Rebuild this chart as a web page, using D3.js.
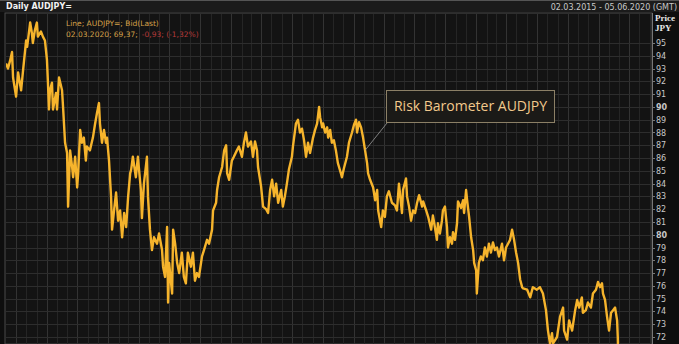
<!DOCTYPE html>
<html>
<head>
<meta charset="utf-8">
<script src="https://cdn.jsdelivr.net/npm/d3@7"></script>
<style>
  html, body { margin: 0; padding: 0; background: #0e0e0e; }
  svg { display: block; }
  .grid line { stroke: #2d2d2d; stroke-width: 1; shape-rendering: crispEdges; }
  .yaxis text { fill: #c8c8c8; font-family: "DejaVu Sans", sans-serif; font-size: 8px; }
  .yaxis line, .yaxis path { stroke: #777; shape-rendering: crispEdges; }
</style>
</head>
<body>
<svg id="chart" width="679" height="344"></svg>
<script>
const width = 679;
const height = 344;

// ---- data (daily AUDJPY, bid/last) ----
const dates = [
  "2015-03-02","2015-03-08","2015-03-14","2015-03-20","2015-03-23","2015-04-01","2015-04-07","2015-04-16","2015-04-22","2015-05-01",
  "2015-05-04","2015-05-13","2015-05-18","2015-05-21","2015-05-27","2015-06-02","2015-06-05","2015-06-14","2015-06-20","2015-06-26",
  "2015-07-02","2015-07-05","2015-07-08","2015-07-11","2015-07-17","2015-07-20","2015-07-29","2015-08-01","2015-08-07","2015-08-16",
  "2015-08-19","2015-08-25","2015-08-31","2015-09-03","2015-09-09","2015-09-15","2015-09-18","2015-09-24","2015-09-30","2015-10-03",
  "2015-10-09","2015-10-14","2015-10-20","2015-10-26","2015-10-29","2015-11-07","2015-11-16","2015-11-22","2015-11-28","2015-12-04",
  "2015-12-07","2015-12-13","2015-12-19","2015-12-25","2015-12-28","2016-01-03","2016-01-09","2016-01-12","2016-01-18","2016-01-24",
  "2016-01-30","2016-02-05","2016-02-11","2016-02-17","2016-02-23","2016-02-29","2016-03-06","2016-03-09","2016-03-14","2016-03-23",
  "2016-03-29","2016-04-07","2016-04-10","2016-04-16","2016-04-25","2016-04-28","2016-05-04","2016-05-10","2016-05-16","2016-05-25",
  "2016-05-31","2016-06-09","2016-06-12","2016-06-18","2016-06-24","2016-06-27","2016-06-30","2016-07-09","2016-07-12","2016-07-18",
  "2016-07-24","2016-07-30","2016-08-07","2016-08-13","2016-08-19","2016-08-25","2016-09-03","2016-09-09","2016-09-15","2016-09-21",
  "2016-09-27","2016-10-06","2016-10-12","2016-10-21","2016-10-27","2016-11-05","2016-11-08","2016-11-17","2016-11-20","2016-11-26",
  "2016-12-05","2016-12-11","2016-12-17","2016-12-20","2016-12-26","2017-01-03","2017-01-09","2017-01-18","2017-01-24","2017-02-02",
  "2017-02-08","2017-02-14","2017-02-20","2017-03-01","2017-03-07","2017-03-13","2017-03-19","2017-03-22","2017-03-31","2017-04-06",
  "2017-04-15","2017-04-21","2017-04-27","2017-05-03","2017-05-09","2017-05-15","2017-05-21","2017-05-30","2017-06-04","2017-06-10",
  "2017-06-16","2017-06-22","2017-07-01","2017-07-04","2017-07-13","2017-07-19","2017-07-25","2017-07-31","2017-08-06","2017-08-12",
  "2017-08-18","2017-08-24","2017-09-02","2017-09-08","2017-09-14","2017-09-20","2017-09-23","2017-09-29","2017-10-02","2017-10-08",
  "2017-10-14","2017-10-17","2017-10-23","2017-10-28","2017-11-03","2017-11-09","2017-11-15","2017-11-24","2017-11-27","2017-12-03",
  "2017-12-12","2017-12-18","2017-12-27","2018-01-02","2018-01-08","2018-01-11","2018-01-17","2018-01-23","2018-01-29","2018-02-04",
  "2018-02-10","2018-02-13","2018-02-19","2018-02-28","2018-03-06","2018-03-12","2018-03-15","2018-03-24","2018-03-29","2018-04-04",
  "2018-04-10","2018-04-16","2018-04-25","2018-05-04","2018-05-10","2018-05-16","2018-05-25","2018-05-28","2018-06-06","2018-06-09",
  "2018-06-15","2018-06-21","2018-06-27","2018-07-03","2018-07-09","2018-07-15","2018-07-24","2018-07-27","2018-08-05","2018-08-11",
  "2018-08-20","2018-08-25","2018-08-31","2018-09-06","2018-09-09","2018-09-15","2018-09-21","2018-09-24","2018-09-30","2018-10-06",
  "2018-10-09","2018-10-15","2018-10-21","2018-10-24","2018-10-30","2018-11-05","2018-11-08","2018-11-17","2018-11-23","2018-11-26",
  "2018-12-02","2018-12-05","2018-12-11","2018-12-17","2018-12-23","2018-12-26","2019-01-01","2019-01-03","2019-01-09","2019-01-15",
  "2019-01-21","2019-01-27","2019-02-02","2019-02-08","2019-02-14","2019-02-20","2019-02-26","2019-03-04","2019-03-10","2019-03-19",
  "2019-03-25","2019-03-31","2019-04-06","2019-04-12","2019-04-18","2019-04-24","2019-04-30","2019-05-06","2019-05-12","2019-05-18",
  "2019-05-21","2019-06-02","2019-06-11","2019-06-19","2019-07-01","2019-07-10","2019-07-19","2019-07-28","2019-08-03","2019-08-09",
  "2019-08-15","2019-08-18","2019-08-30","2019-09-08","2019-09-17","2019-09-20","2019-09-29","2019-10-05","2019-10-14","2019-10-23",
  "2019-10-29","2019-11-04","2019-11-12","2019-11-15","2019-11-24","2019-11-30","2019-12-09","2019-12-15","2019-12-24","2019-12-30",
  "2020-01-05","2020-01-11","2020-01-14","2020-01-20","2020-01-26","2020-02-01","2020-02-07","2020-02-13","2020-02-19","2020-02-25",
  "2020-02-27","2020-02-28","2020-03-02"
];
const closes = [
  93.4,93.0,93.6,94.3,92.3,90.8,92.7,91.3,92.9,95.2,
  94.7,96.6,95.8,95.0,96.0,96.6,95.5,95.9,95.5,95.2,
  93.7,91.9,89.8,91.3,91.9,89.8,91.1,89.8,92.3,91.3,
  90.0,87.2,86.4,82.2,86.6,85.3,84.5,86.1,83.7,84.8,
  88.2,87.2,87.6,85.8,86.9,86.6,87.6,88.6,89.5,90.3,
  88.7,87.2,88.2,87.2,87.6,85.8,83.0,80.4,81.9,83.3,
  81.1,81.9,79.8,81.7,80.6,83.0,84.8,85.1,86.1,84.5,
  86.1,83.5,81.3,84.0,86.1,83.0,80.4,78.8,79.8,79.3,
  80.1,78.8,77.5,76.7,80.6,74.7,77.8,75.4,80.4,79.3,
  77.8,77.0,78.6,76.7,76.2,78.6,77.5,78.6,76.4,77.0,
  76.7,78.3,78.8,79.6,79.3,80.4,81.9,82.5,83.5,84.5,
  85.3,86.6,87.0,84.8,84.3,85.8,86.1,86.6,86.9,86.1,
  87.2,88.0,86.9,87.3,86.1,87.3,86.6,85.3,83.8,82.2,
  82.0,81.7,83.5,84.3,83.0,84.0,82.5,83.5,82.2,83.0,
  84.0,85.1,86.1,86.9,88.7,89.0,88.0,88.3,87.4,86.1,
  87.2,86.4,87.6,88.2,88.7,90.0,89.2,88.4,88.7,88.0,
  88.4,87.6,88.2,87.2,87.4,86.6,85.6,84.8,84.5,85.2,
  86.1,87.2,88.0,88.6,89.0,88.0,88.8,88.4,87.6,86.6,
  85.6,84.8,84.3,83.7,82.7,83.5,81.9,80.6,81.9,81.4,
  83.0,83.4,82.5,82.3,81.9,84.0,81.7,83.5,84.4,83.0,
  82.2,81.1,81.9,81.7,82.5,83.1,82.2,82.6,81.9,81.4,
  80.4,81.5,80.6,79.6,80.9,80.1,81.1,81.9,82.2,80.6,
  79.0,79.8,79.3,80.2,79.6,80.9,82.6,82.1,82.7,81.7,
  83.5,82.7,81.4,79.8,78.8,77.8,77.2,75.4,77.8,78.3,
  78.0,79.0,78.3,79.3,78.6,79.4,78.8,79.0,78.3,79.3,
  78.0,79.0,79.3,79.6,80.4,79.6,78.6,77.8,76.5,75.9,
  75.8,75.7,75.1,75.9,75.7,75.9,75.4,74.1,72.5,71.5,
  72.3,71.5,72.0,73.6,74.3,72.5,71.8,73.3,72.5,74.1,
  74.9,74.3,75.1,73.9,74.1,74.7,74.3,75.4,75.7,76.3,
  75.9,76.2,75.4,74.9,73.6,72.5,73.9,74.1,74.3,73.3,
  72.0,70.9,69.37
];
const yTicks = [72,73,74,75,76,77,78,79,80,81,82,83,84,85,86,87,88,89,90,91,92,93,94,95];
const boldTicks = [80, 90];
const rangeLabel = "02.03.2015 - 05.06.2020 (GMT)";
const annotation = "Risk Barometer AUDJPY";

const parse = d3.timeParse("%Y-%m-%d");
const series = dates.map((d, i) => ({ date: parse(d), value: closes[i] }));

const plot = { left: 5, right: 652, top: 13, bottom: 344 };

const x = d3.scaleTime()
    .domain([parse("2015-03-02"), parse("2020-06-05")])
    .range([6, 651]);
const y = d3.scaleLinear()
    .domain([72, 95])
    .range([337, 43]);

const svg = d3.select("#chart");

// header strip
svg.append("rect").attr("x", 0).attr("y", 0).attr("width", width).attr("height", 12)
    .attr("fill", "#1b1b1b");
svg.append("line").attr("x1", 0).attr("x2", width).attr("y1", 0.5).attr("y2", 0.5).attr("stroke", "#555");
svg.append("text").attr("x", 6).attr("y", 9)
    .attr("font-family", "DejaVu Sans, sans-serif").attr("font-size", 8).attr("font-weight", "bold")
    .attr("fill", "#f2f2f2").text("Daily AUDJPY=");
svg.append("text").attr("x", 677).attr("y", 10).attr("text-anchor", "end")
    .attr("font-family", "DejaVu Sans, sans-serif").attr("font-size", 8)
    .attr("fill", "#c8c8c8").text(rangeLabel);

// plot background + frame
svg.append("rect").attr("x", plot.left).attr("y", plot.top)
    .attr("width", plot.right - plot.left).attr("height", plot.bottom - plot.top)
    .attr("fill", "#131313").attr("stroke", "#4a4a4a");

svg.append("defs").append("clipPath").attr("id", "plotClip")
    .append("rect").attr("x", plot.left + 1).attr("y", plot.top + 1)
    .attr("width", plot.right - plot.left - 1).attr("height", plot.bottom - plot.top);

const inner = svg.append("g").attr("clip-path", "url(#plotClip)");

// vertical grid (monthly, quarter lines a bit brighter)
inner.append("g")
    .selectAll("line")
    .data(x.ticks(d3.timeMonth.every(1)))
    .join("line")
    .attr("x1", d => Math.round(x(d)) + 0.5).attr("x2", d => Math.round(x(d)) + 0.5)
    .attr("y1", plot.top).attr("y2", plot.bottom)
    .attr("shape-rendering", "crispEdges")
    .attr("stroke", (d, i) => i % 3 === 0 ? "#333" : "#252525");

// horizontal grid
inner.append("g").attr("class", "grid")
    .selectAll("line")
    .data(yTicks)
    .join("line")
    .attr("x1", plot.left).attr("x2", plot.right)
    .attr("y1", d => Math.round(y(d)) + 0.5).attr("y2", d => Math.round(y(d)) + 0.5);

// price line
const line = d3.line().x(d => x(d.date)).y(d => y(d.value));
inner.append("path")
    .datum(series)
    .attr("fill", "none")
    .attr("stroke", "#f6b42c")
    .attr("stroke-width", 2.4)
    .attr("stroke-linejoin", "round")
    .attr("d", line);

// right axis
const yAxis = svg.append("g").attr("class", "yaxis")
    .attr("transform", `translate(${plot.right},0)`)
    .call(d3.axisRight(y).tickValues(yTicks).tickSize(3).tickPadding(1).tickFormat(d3.format("d")));
yAxis.select(".domain").attr("d", `M0.5,${plot.top}V${plot.bottom}`);
yAxis.selectAll(".tick text")
    .attr("font-weight", d => boldTicks.includes(d) ? "bold" : null)
    .attr("fill", d => boldTicks.includes(d) ? "#ffffff" : "#c8c8c8");

svg.append("text").attr("x", 655).attr("y", 21)
    .attr("font-family", "Liberation Serif, serif").attr("font-size", 9).attr("font-weight", "bold")
    .attr("fill", "#e8e8e8").text("Price");
svg.append("text").attr("x", 655).attr("y", 31)
    .attr("font-family", "Liberation Serif, serif").attr("font-size", 9).attr("font-weight", "bold")
    .attr("fill", "#e8e8e8").text("JPY");

// legend
const legend = svg.append("text")
    .attr("font-family", "DejaVu Sans, sans-serif").attr("font-size", 7.5);
legend.append("tspan").attr("x", 66).attr("y", 26).attr("fill", "#d6a24a")
    .text("Line; AUDJPY=; Bid(Last)");
legend.append("tspan").attr("x", 66).attr("y", 37).attr("fill", "#d6a24a")
    .text(`02.03.2020; ${String(closes[closes.length - 1]).replace(".", ",")};`);
legend.append("tspan").attr("dx", 4).attr("fill", "#b83a3a").text("-0,93; (-1,32%)");

// annotation box with leader
const anchor = series.find(d => d.date >= parse("2018-02-04"));
svg.append("line")
    .attr("x1", 387).attr("y1", 123)
    .attr("x2", x(anchor.date)).attr("y2", y(anchor.value))
    .attr("stroke", "#9a9a9a").attr("stroke-width", 0.8);
svg.append("rect").attr("x", 386.5).attr("y", 90.5).attr("width", 168).attr("height", 32)
    .attr("fill", "#1b1a17").attr("stroke", "#8c8066").attr("stroke-width", 1);
svg.append("text").attr("x", 470.5).attr("y", 111)
    .attr("text-anchor", "middle")
    .attr("font-family", "Open Sans, sans-serif").attr("font-size", 14)
    .attr("fill", "#f3c98c").text(annotation);
</script>
</body>
</html>
